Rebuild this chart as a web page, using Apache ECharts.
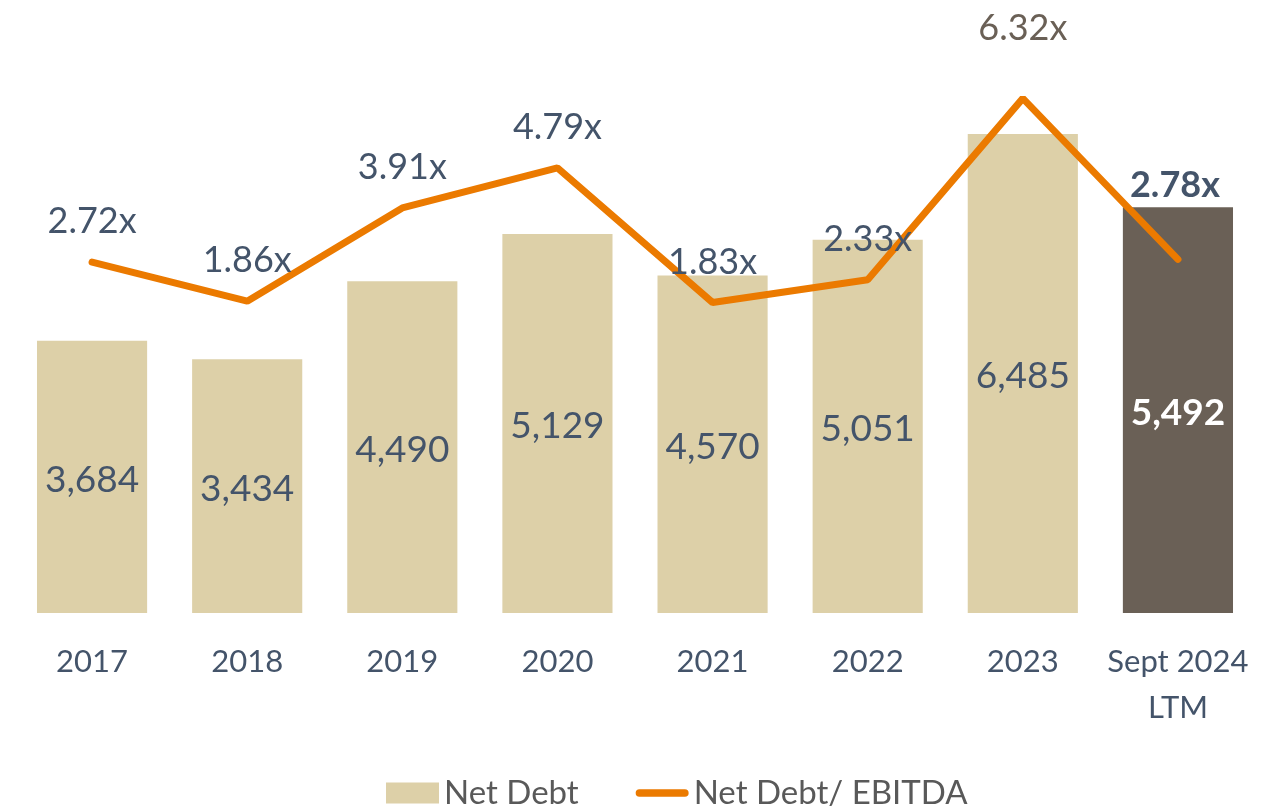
<!DOCTYPE html>
<html><head><meta charset="utf-8">
<script src="https://cdn.jsdelivr.net/npm/echarts@6/dist/echarts.min.js"></script>
<style>html,body{margin:0;padding:0;background:#fff}#c{width:1284px;height:808px}</style>
</head><body><div id="c"></div>
<script>
const categories = ['2017','2018','2019','2020','2021','2022','2023','Sept 2024\nLTM'];
const netDebt = [3684, 3434, 4490, 5129, 4570, 5051, 6485, 5492];
const ratio = [2.72, 1.86, 3.91, 4.79, 1.83, 2.33, 6.32, 2.78];
const seriesNames = ['Net Debt', 'Net Debt/ EBITDA'];

const FONT = 'Lato, "Open Sans", sans-serif';
const SLATE = '#44546A';
const BEIGE = '#DDD0A8';
const DARK = '#6A6056';
const ORANGE = '#EB7A00';

const barData = netDebt.map((v, i) => {
  if (i === netDebt.length - 1) {
    return { value: v, itemStyle: { color: DARK }, label: { color: '#fff', fontWeight: 'bold' } };
  }
  return { value: v };
});
const lineData = ratio.map((v, i) => {
  const d = { value: v };
  if (i === 6) d.label = { distance: 51, color: '#6A6056' };
  if (i === 7) d.label = { distance: 55, fontWeight: 'bold', offset: [-3, 0] };
  return d;
});

const chart = echarts.init(document.getElementById('c'));
chart.setOption({
  animation: false,
  textStyle: { fontFamily: FONT },
  grid: { left: 14.5, right: 28.5, top: 22, bottom: 195, containLabel: false },
  legend: {
    left: 386, top: 776.5, padding: 0,
    itemWidth: 53, itemHeight: 21, itemGap: 57,
    textStyle: { fontFamily: FONT, fontSize: 33, color: '#595959' },
    data: [
      { name: seriesNames[0], icon: 'rect' },
      { name: seriesNames[1], icon: 'path://M4,0 L52,0 A4,4 0 0 1 52,8 L4,8 A4,4 0 0 1 4,0 Z' }
    ]
  },
  xAxis: {
    type: 'category', data: categories,
    axisLine: { show: false }, axisTick: { show: false },
    axisLabel: { fontFamily: FONT, fontSize: 31, color: SLATE, margin: 26, lineHeight: 46, verticalAlign: 'top', interval: 0 }
  },
  yAxis: [
    { type: 'value', min: 0, max: 8000, show: false, splitLine: { show: false } },
    { type: 'value', min: -5, max: 8, show: false, splitLine: { show: false } }
  ],
  series: [
    {
      name: seriesNames[0], type: 'bar', data: barData, barCategoryGap: '29%',
      itemStyle: { color: BEIGE },
      label: {
        show: true, position: 'inside', offset: [0, 3], fontFamily: FONT, fontSize: 37, color: SLATE,
        formatter: p => p.value.toLocaleString('en-US')
      },
      emphasis: { disabled: true }
    },
    {
      name: seriesNames[1], type: 'line', yAxisIndex: 1, data: lineData,
      symbol: 'circle', symbolSize: 1,
      itemStyle: { color: ORANGE },
      lineStyle: { color: ORANGE, width: 7, cap: 'round' },
      label: {
        show: true, position: 'top', distance: 22, fontFamily: FONT, fontSize: 36, color: SLATE,
        formatter: p => p.value.toFixed(2) + 'x'
      },
      z: 5,
      emphasis: { disabled: true }
    }
  ]
});
</script></body></html>
